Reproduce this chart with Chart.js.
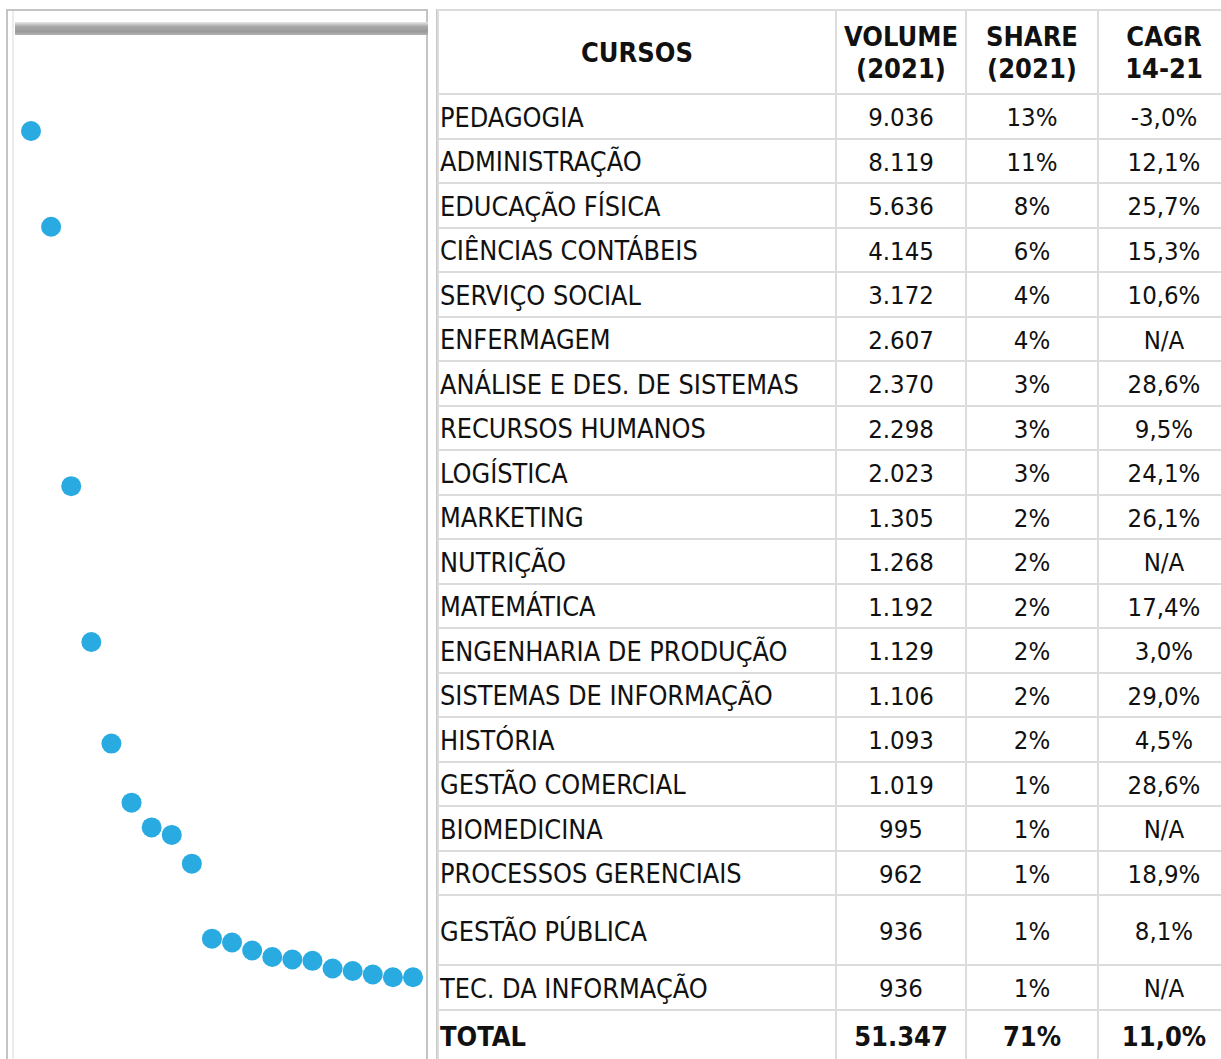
<!DOCTYPE html>
<html>
<head>
<meta charset="utf-8">
<script src="https://cdn.jsdelivr.net/npm/chart.js@4"></script>
<style>
  html, body { margin: 0; padding: 0; background: #fff; overflow: hidden; width: 1221px; height: 1059px; }
  #caixa {
    position: absolute; left: 6px; top: 9px; width: 418px; height: 1080px;
    border: 2px solid #c4c4c4;
    box-shadow: inset 4px 0 0 #fff, inset 6px 0 0 #ececec;
  }
  #barra {
    position: absolute; left: 15px; top: 22px; width: 413px; height: 13px;
    background: linear-gradient(to bottom, #e8e8e8 0%, #a8a8a8 35%, #9a9a9a 75%, #b4b4b4 100%);
  }
  #pontos { position: absolute; left: 13px; top: 36px; }
  #tabela {
    position: absolute; left: 437px; top: 9px; width: 792px;
    table-layout: fixed;
    border-collapse: collapse;
    font-family: Tahoma, "DejaVu Sans Condensed", sans-serif;
    font-size: 25.5px; color: #111;
    box-shadow: -1px 0 0 #c8c8c8;
  }
  #tabela td, #tabela th {
    border: 2px solid #dcdcdc; padding: 0; text-align: center; vertical-align: middle;
    white-space: nowrap; overflow: hidden;
  }
  #tabela th { font-weight: bold; line-height: 32px; height: 80px; padding-top: 2px; font-size: 27px; }
  #tabela td.nome { text-align: left; padding-left: 1px; font-size: 26.8px; }
  #tabela tr.linha td { height: 40.5px; padding-top: 2px; }
  #tabela tr.alta td { height: 66px; padding-top: 2px; }
  #tabela tr.total td { font-weight: bold; height: 48px; padding-top: 2px; font-size: 27px; }
</style>
</head>
<body>
<div id="caixa"></div>
<div id="barra"></div>
<canvas id="pontos" width="415" height="1039"></canvas>
<table id="tabela">
  <colgroup>
    <col style="width:398px"><col style="width:130px"><col style="width:132px"><col style="width:132px">
  </colgroup>
  <thead>
    <tr>
      <th>CURSOS</th>
      <th>VOLUME<br>(2021)</th>
      <th>SHARE<br>(2021)</th>
      <th>CAGR<br>14-21</th>
    </tr>
  </thead>
  <tbody id="corpo"></tbody>
</table>
<script>
const cursos = ['PEDAGOGIA', 'ADMINISTRAÇÃO', 'EDUCAÇÃO FÍSICA', 'CIÊNCIAS CONTÁBEIS', 'SERVIÇO SOCIAL',
  'ENFERMAGEM', 'ANÁLISE E DES. DE SISTEMAS', 'RECURSOS HUMANOS', 'LOGÍSTICA', 'MARKETING',
  'NUTRIÇÃO', 'MATEMÁTICA', 'ENGENHARIA DE PRODUÇÃO', 'SISTEMAS DE INFORMAÇÃO', 'HISTÓRIA',
  'GESTÃO COMERCIAL', 'BIOMEDICINA', 'PROCESSOS GERENCIAIS', 'GESTÃO PÚBLICA', 'TEC. DA INFORMAÇÃO'];
const volume = [9036, 8119, 5636, 4145, 3172, 2607, 2370, 2298, 2023, 1305,
  1268, 1192, 1129, 1106, 1093, 1019, 995, 962, 936, 936];
const share = ['13%', '11%', '8%', '6%', '4%', '4%', '3%', '3%', '3%', '2%',
  '2%', '2%', '2%', '2%', '2%', '1%', '1%', '1%', '1%', '1%'];
const cagr = ['-3,0%', '12,1%', '25,7%', '15,3%', '10,6%', 'N/A', '28,6%', '9,5%', '24,1%', '26,1%',
  'N/A', '17,4%', '3,0%', '29,0%', '4,5%', '28,6%', 'N/A', '18,9%', '8,1%', 'N/A'];
const total = ['TOTAL', 51347, '71%', '11,0%'];

function milhar(n) {
  return String(n).replace(/\B(?=(\d{3})+(?!\d))/g, '.');
}

// monta a tabela
const corpo = document.getElementById('corpo');
cursos.forEach((c, i) => {
  const tr = document.createElement('tr');
  tr.className = c === 'GESTÃO PÚBLICA' ? 'alta' : 'linha';
  tr.innerHTML = '<td class="nome">' + c + '</td><td>' + milhar(volume[i]) + '</td><td>' +
    share[i] + '</td><td>' + cagr[i] + '</td>';
  corpo.appendChild(tr);
});
const trTotal = document.createElement('tr');
trTotal.className = 'total';
trTotal.innerHTML = '<td class="nome">' + total[0] + '</td><td>' + milhar(total[1]) + '</td><td>' +
  total[2] + '</td><td>' + total[3] + '</td>';
corpo.appendChild(trTotal);

// grafico de pontos
const ctx = document.getElementById('pontos').getContext('2d');
new Chart(ctx, {
  type: 'line',
  data: {
    labels: cursos,
    datasets: [{
      data: volume,
      showLine: false,
      pointRadius: 10,
      pointHoverRadius: 10,
      pointBorderWidth: 0,
      pointBackgroundColor: '#29abe2',
      clip: false
    }]
  },
  options: {
    responsive: false,
    animation: false,
    layout: { autoPadding: false, padding: { left: 18, right: 15, top: 46.5, bottom: 0 } },
    plugins: { legend: { display: false }, tooltip: { enabled: false } },
    scales: {
      x: { display: false, offset: false },
      y: { display: false, min: 0, max: 9500 }
    }
  }
});
</script>
</body>
</html>
